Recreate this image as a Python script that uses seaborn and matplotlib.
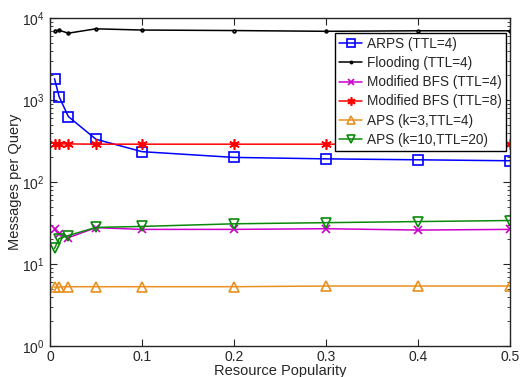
import numpy as np
import pandas as pd
import matplotlib
matplotlib.use("Agg")
import matplotlib.pyplot as plt
import seaborn as sns
from matplotlib.ticker import LogLocator, FixedLocator

popularity = [0.005, 0.01, 0.02, 0.05, 0.1, 0.2, 0.3, 0.4, 0.5]
arps = [1820, 1100, 630, 333, 235, 200, 192, 187, 182]
flooding = [7000, 7100, 6550, 7400, 7150, 7050, 6900, 7000, 7000]
mbfs4 = [27, 23.5, 21, 27.8, 26.5, 26.5, 27, 26, 26.5]
mbfs8 = [292, 292, 292, 290, 290, 290, 290, 290, 292]
aps3 = [5.25, 5.25, 5.3, 5.3, 5.3, 5.3, 5.4, 5.4, 5.4]
aps10 = [15.5, 20.5, 22.3, 28, 28.8, 31, 32, 33, 34]

series_names = ["ARPS (TTL=4)", "Flooding (TTL=4)", "Modified BFS (TTL=4)",
                "Modified BFS (TTL=8)", "APS (k=3,TTL=4)", "APS (k=10,TTL=20)"]
series_values = [arps, flooding, mbfs4, mbfs8, aps3, aps10]
x_ticks = [0, 0.1, 0.2, 0.3, 0.4, 0.5]
x_ticklabels = ["0", "0.1", "0.2", "0.3", "0.4", "0.5"]

styles = {
    "ARPS (TTL=4)": dict(color="#0000ff", marker="s", ms=6.5),
    "Flooding (TTL=4)": dict(color="#000000", marker=".", ms=4),
    "Modified BFS (TTL=4)": dict(color="#cc00cc", marker="x", ms=5.5),
    "Modified BFS (TTL=8)": dict(color="#ff0000", marker=(6, 2, 0), ms=7.5),
    "APS (k=3,TTL=4)": dict(color="#e8901f", marker="^", ms=7.5),
    "APS (k=10,TTL=20)": dict(color="#0a8a0a", marker="v", ms=7.5),
}

sns.set_style("ticks")
plt.rcParams["font.family"] = ["Liberation Sans", "DejaVu Sans"]

fig = plt.figure(figsize=(5.2, 3.77), dpi=100)
ax = fig.add_axes([0.096, 0.082, 0.885, 0.870])

for name, vals in zip(series_names, series_values):
    st = styles[name]
    df = pd.DataFrame({"x": popularity, "y": vals})
    sns.lineplot(data=df, x="x", y="y", ax=ax, color=st["color"], marker=st["marker"],
                 markersize=st["ms"], markerfacecolor="none", markeredgecolor=st["color"],
                 markeredgewidth=1.2, linewidth=1.1, label=name)

ax.set_yscale("log")
ax.set_ylim(1, 1e4)
ax.set_xlim(0, 0.5)
ax.xaxis.set_major_locator(FixedLocator(x_ticks))
ax.set_xticklabels(x_ticklabels)
ax.yaxis.set_major_locator(LogLocator(base=10, numticks=10))
ax.yaxis.set_minor_locator(LogLocator(base=10, subs=np.arange(2, 10), numticks=10))
ax.tick_params(axis="both", which="both", direction="in", top=True, right=True, labelsize=10)
ax.tick_params(axis="y", which="major", pad=4)
ax.tick_params(axis="x", which="major", pad=2.5)
ax.tick_params(which="major", length=5)
ax.tick_params(which="minor", length=2.5)
for sp in ax.spines.values():
    sp.set_linewidth(1.0)
    sp.set_visible(True)

ax.set_xlabel("Resource Popularity", fontsize=10.5, labelpad=0)
ax.set_ylabel("Messages per Query", fontsize=10.5, labelpad=-0.5)

leg = ax.legend(loc="upper right", bbox_to_anchor=(0.99, 0.955), fontsize=9.8,
                frameon=True, fancybox=False, edgecolor="black", handlelength=1.7,
                handletextpad=0.3, borderpad=0.3, labelspacing=0.38, borderaxespad=0,
                markerscale=0.8)
leg.get_frame().set_linewidth(1.0)
leg.get_frame().set_alpha(1)

fig.savefig("out.png", dpi=100)
